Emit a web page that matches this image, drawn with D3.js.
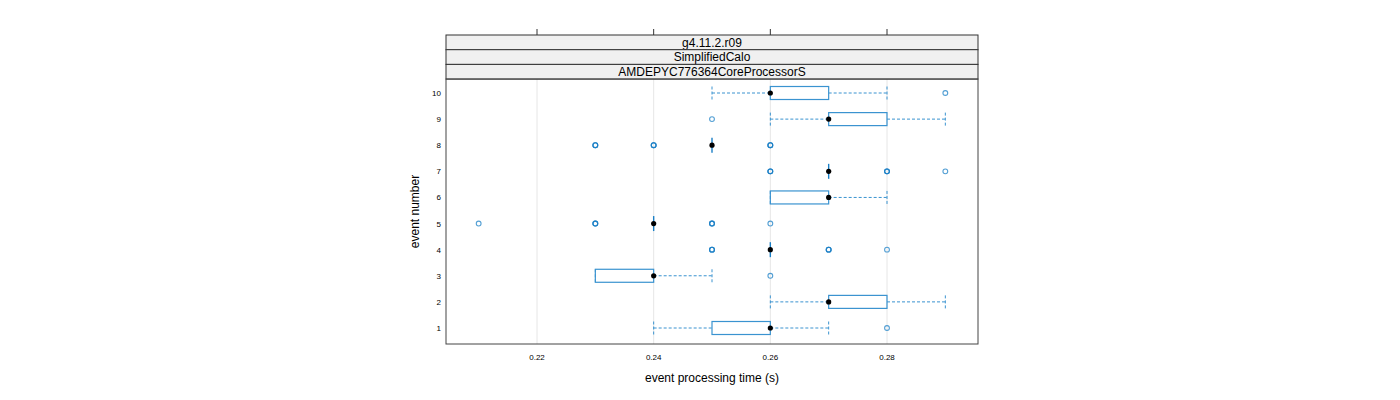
<!DOCTYPE html>
<html><head><meta charset="utf-8">
<script src="https://cdn.jsdelivr.net/npm/d3@7"></script>
<style>body{margin:0;background:#fff}svg{display:block;font-family:"Liberation Sans",Arial,sans-serif}</style>
</head><body><svg id="c" width="1400" height="400"></svg>
<script>
const events = ["1","2","3","4","5","6","7","8","9","10"];
const whiskerLow = [0.24,0.26,0.23,0.26,0.24,0.26,0.27,0.25,0.26,0.25];
const boxLow     = [0.25,0.27,0.23,0.26,0.24,0.26,0.27,0.25,0.27,0.26];
const medians    = [0.26,0.27,0.24,0.26,0.24,0.27,0.27,0.25,0.27,0.26];
const boxHigh    = [0.26,0.28,0.24,0.26,0.24,0.27,0.27,0.25,0.28,0.27];
const whiskerHigh= [0.27,0.29,0.25,0.26,0.24,0.28,0.27,0.25,0.29,0.28];
const outliers = [
  [0.28],
  [],
  [0.26],
  [0.25,0.25,0.25,0.27,0.27,0.27,0.28],
  [0.21,0.23,0.23,0.23,0.25,0.25,0.25,0.26],
  [],
  [0.26,0.26,0.26,0.28,0.28,0.28,0.29],
  [0.23,0.23,0.23,0.24,0.24,0.24,0.26,0.26,0.26],
  [0.25],
  [0.29]
];
const xTicks = [0.22,0.24,0.26,0.28];
const strips = ["g4.11.2.r09","SimplifiedCalo","AMDEPYC776364CoreProcessorS"];

const svg = d3.select("#c");
const L=446,R=978,T=79,B=344;
const x = d3.scaleLinear().domain([0.2044,0.2956]).range([L,R]);
const y = d3.scaleLinear().domain([1,10]).range([328,93]);
const blue="#3a93d0";

// grid
svg.append("g").selectAll("line").data(xTicks).join("line")
  .attr("x1",d=>x(d)).attr("x2",d=>x(d)).attr("y1",T).attr("y2",B)
  .attr("stroke","#e6e6e6").attr("stroke-width",1);

// strips
const sh=14.7;
strips.forEach((s,i)=>{
  const y0=35+i*sh;
  svg.append("rect").attr("x",L).attr("y",y0).attr("width",R-L).attr("height",sh)
    .attr("fill","#f0f0f0").attr("stroke","#333").attr("stroke-width",1);
  svg.append("text").attr("x",(L+R)/2).attr("y",y0+sh/2+4.3).attr("text-anchor","middle")
    .attr("font-size",12).attr("fill","#000").text(s);
});

// top ticks
svg.append("g").selectAll("line").data(xTicks).join("line")
  .attr("x1",d=>x(d)).attr("x2",d=>x(d)).attr("y1",29).attr("y2",35)
  .attr("stroke","#333");

// panel border
svg.append("rect").attr("x",L).attr("y",T).attr("width",R-L).attr("height",B-T)
  .attr("fill","none").attr("stroke","#444").attr("stroke-width",1);

// x tick labels
svg.append("g").selectAll("text").data(xTicks).join("text")
  .attr("x",d=>x(d)).attr("y",360).attr("text-anchor","middle").attr("font-size",8)
  .text(d=>d3.format(".2f")(d));
// y tick labels
svg.append("g").selectAll("text").data(events).join("text")
  .attr("x",441).attr("y",(d,i)=>y(i+1)+3).attr("text-anchor","end").attr("font-size",8)
  .text(d=>d);

svg.append("text").attr("x",(L+R)/2).attr("y",382).attr("text-anchor","middle").attr("font-size",12)
  .text("event processing time (s)");
svg.append("text").attr("transform",`translate(419,${(T+B)/2}) rotate(-90)`).attr("text-anchor","middle")
  .attr("font-size",12).text("event number");

const hh=6.5;
const g=svg.append("g");
events.forEach((e,i)=>{
  const cy=y(i+1);
  const dash="3,2";
  if(whiskerLow[i]<boxLow[i]){
    g.append("line").attr("x1",x(whiskerLow[i])).attr("x2",x(boxLow[i])).attr("y1",cy).attr("y2",cy)
      .attr("stroke",blue).attr("stroke-dasharray",dash);
  }
  if(whiskerHigh[i]>boxHigh[i]){
    g.append("line").attr("x1",x(boxHigh[i])).attr("x2",x(whiskerHigh[i])).attr("y1",cy).attr("y2",cy)
      .attr("stroke",blue).attr("stroke-dasharray",dash);
  }
  if(whiskerHigh[i]>whiskerLow[i]){
    [whiskerLow[i],whiskerHigh[i]].forEach(v=>{
      g.append("line").attr("x1",x(v)).attr("x2",x(v)).attr("y1",cy-hh).attr("y2",cy+hh)
        .attr("stroke",blue).attr("stroke-dasharray",dash);
    });
  }
  // box
  if(boxHigh[i]>boxLow[i]){
    g.append("rect").attr("x",x(boxLow[i])).attr("y",cy-hh).attr("width",x(boxHigh[i])-x(boxLow[i]))
      .attr("height",2*hh).attr("fill","none").attr("stroke",blue).attr("stroke-width",1.2);
  } else {
    g.append("line").attr("x1",x(boxLow[i])).attr("x2",x(boxLow[i])).attr("y1",cy-hh-1).attr("y2",cy+hh+1)
      .attr("stroke","#1a7fc6").attr("stroke-width",1.4);
  }
  outliers[i].forEach(v=>{
    g.append("circle").attr("cx",x(v)).attr("cy",cy).attr("r",2.4).attr("fill","none")
      .attr("stroke","#1a7fc6").attr("stroke-opacity",0.75).attr("stroke-width",1.1);
  });
  g.append("circle").attr("cx",x(medians[i])).attr("cy",cy).attr("r",2.6).attr("fill","#000");
});
</script></body></html>
